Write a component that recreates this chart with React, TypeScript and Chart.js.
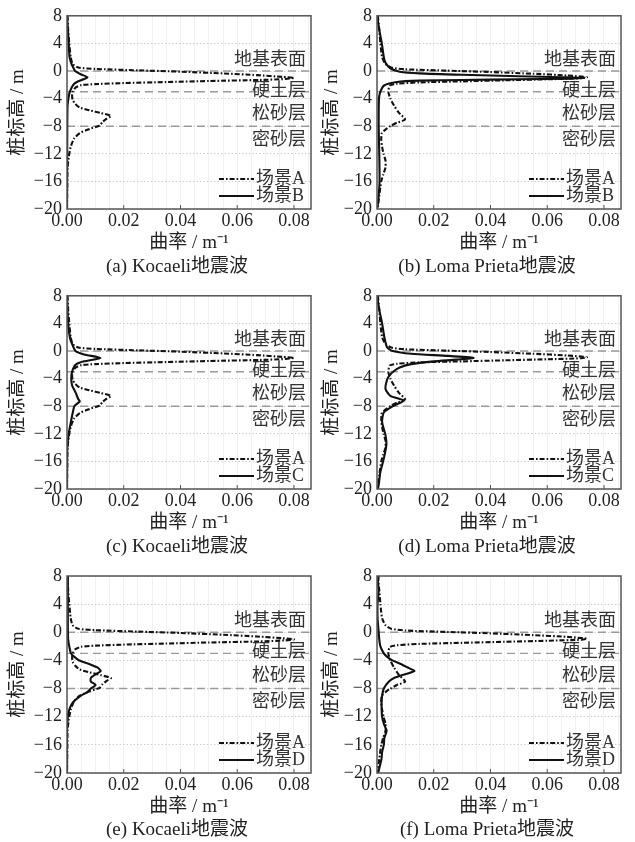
import React, { useEffect, useRef } from "react";
import { Chart, registerables } from "chart.js";

Chart.register(...registerables);

const SERIF = "'Liberation Serif', 'Noto Sans CJK SC', serif";

// ---------- axes ----------
const xMin = 0;
const xMax = 0.086;
const xStep = 0.005;
const xLabelStep = 0.02;
const yMin = -20;
const yMax = 8;
const yStep = 4;

const xAxisTitle = "曲率 / m⁻¹";
const yAxisTitle = "桩标高 / m";

// ---------- soil layers ----------
const layerBoundaries = [0, -3, -8];
const layerNames = ["地基表面", "硬土层", "松砂层", "密砂层"];
const layerNameElev = [1.6, -2.9, -6.3, -10.0];

// ---------- series: Kocaeli, scenario A ----------
const elevKocaeliA = [8, 6, 4, 2, 1, 0.5, 0.3, 0.1, -0.1, -0.35, -0.6, -0.85, -1.0, -1.15, -1.3, -1.45, -1.6, -1.75, -1.9, -2.05, -2.4, -3.0, -3.6, -4.2, -4.8, -5.3, -5.7, -6.1, -6.5, -6.9, -7.4, -7.9, -8.4, -9.0, -9.8, -11, -12.5, -14, -17, -20];
const curvKocaeliA = [0.0002, 0.0004, 0.0008, 0.0013, 0.002, 0.004, 0.01, 0.025, 0.04, 0.055, 0.067, 0.076, 0.08, 0.077, 0.068, 0.05, 0.035, 0.02, 0.01, 0.005, 0.003, 0.002, 0.0018, 0.002, 0.003, 0.0045, 0.008, 0.012, 0.0155, 0.014, 0.0125, 0.0115, 0.008, 0.0045, 0.0025, 0.0013, 0.0006, 0.0002, 0.0001, 0.0];

// ---------- series: Loma Prieta, scenario A ----------
const elevLomaA = [8, 6, 4, 2, 1, 0.5, 0.25, 0.05, -0.15, -0.4, -0.65, -0.9, -1.05, -1.2, -1.35, -1.5, -1.65, -1.85, -2.1, -3, -4, -5, -6, -7, -7.5, -8, -8.5, -9, -10, -11, -12, -13, -14, -15, -16, -18, -20];
const curvLomaA = [0.0003, 0.0008, 0.0012, 0.0018, 0.003, 0.005, 0.01, 0.025, 0.04, 0.055, 0.067, 0.074, 0.072, 0.06, 0.045, 0.03, 0.015, 0.007, 0.0045, 0.004, 0.0047, 0.006, 0.0076, 0.0099, 0.007, 0.0047, 0.003, 0.0017, 0.0015, 0.0018, 0.0023, 0.003, 0.003, 0.0022, 0.0015, 0.0008, 0.0002];

// ---------- series: Kocaeli, scenario B ----------
const elevKocaeliB = [8, 6, 4, 2, 1, 0.5, 0, -0.5, -0.9, -1.2, -1.6, -2, -3, -4, -5, -8, -20];
const curvKocaeliB = [0.0, 0.0003, 0.0006, 0.0009, 0.0016, 0.0022, 0.0029, 0.005, 0.0072, 0.0058, 0.0035, 0.0022, 0.001, 0.0005, 0.0002, 0.0001, 0.0];

// ---------- series: Loma Prieta, scenario B ----------
const elevLomaB = [8, 6, 4, 2, 1.2, 0.4, -0.1, -0.35, -0.55, -0.75, -0.9, -1.0, -1.1, -1.2, -1.3, -1.4, -1.6, -2.1, -3, -4, -8, -12, -16, -19, -20];
const curvLomaB = [0.0, 0.0008, 0.0017, 0.0024, 0.003, 0.0047, 0.008, 0.015, 0.03, 0.05, 0.065, 0.073, 0.068, 0.05, 0.03, 0.015, 0.007, 0.0025, 0.0012, 0.0007, 0.0006, 0.0008, 0.0009, 0.0004, 0.0];

// ---------- series: Kocaeli, scenario C ----------
const elevKocaeliC = [8, 4, 2, 1, 0, -0.5, -1, -1.5, -2, -3, -4, -5, -6, -7, -7.3, -8, -9, -10, -12, -14, -20];
const curvKocaeliC = [0.0, 0.0004, 0.001, 0.0018, 0.003, 0.006, 0.0118, 0.006, 0.003, 0.0018, 0.0015, 0.0018, 0.003, 0.004, 0.0045, 0.0026, 0.002, 0.0015, 0.0006, 0.0001, 0.0];

// ---------- series: Loma Prieta, scenario C ----------
const elevLomaC = [8, 6, 4, 2, 0.5, 0, -0.4, -0.7, -1.0, -1.25, -1.5, -1.9, -2.4, -2.9, -3.5, -4.1, -5.5, -6.5, -7.2, -7.9, -8.9, -10.3, -12.2, -13.6, -15.6, -17.5, -19.4, -20];
const curvLomaC = [0.0, 0.0008, 0.0018, 0.0026, 0.0036, 0.0055, 0.012, 0.025, 0.034, 0.028, 0.02, 0.012, 0.008, 0.006, 0.0045, 0.0036, 0.003, 0.0047, 0.0095, 0.006, 0.0024, 0.0018, 0.003, 0.0033, 0.0024, 0.0012, 0.0006, 0.0003];

// ---------- series: Kocaeli, scenario D ----------
const elevKocaeliD = [8, 4, 1, -1, -2, -3, -3.5, -4, -4.5, -5, -5.5, -6, -6.5, -7, -7.5, -8, -8.5, -9, -10, -11, -12, -14, -20];
const curvKocaeliD = [0.0003, 0.0003, 0.0003, 0.0004, 0.0008, 0.0014, 0.0026, 0.0043, 0.0078, 0.0107, 0.0119, 0.01, 0.0084, 0.0084, 0.0101, 0.0084, 0.0072, 0.0049, 0.002, 0.0008, 0.0003, 0.0, 0.0];

// ---------- series: Loma Prieta, scenario D ----------
const elevLomaD = [8, 7, 6, 4, 2, 0, -1, -2, -3, -3.5, -4, -4.5, -5, -5.5, -6, -6.5, -7, -8, -9, -10, -12, -13, -14, -15, -16, -17, -18, -19, -20];
const curvLomaD = [0.0006, 0.0003, 0.0006, 0.0002, 0.0002, 0.0006, 0.0008, 0.0012, 0.0024, 0.0036, 0.0054, 0.0084, 0.0108, 0.0132, 0.0096, 0.006, 0.0042, 0.0024, 0.0018, 0.0016, 0.0018, 0.0024, 0.0034, 0.0026, 0.0024, 0.0018, 0.0016, 0.001, 0.0004];

// ---------- labels ----------
const labelA = "场景A";
const labelB = "场景B";
const labelC = "场景C";
const labelD = "场景D";
const captions = [
  "(a) Kocaeli地震波",
  "(b) Loma Prieta地震波",
  "(c) Kocaeli地震波",
  "(d) Loma Prieta地震波",
  "(e) Kocaeli地震波",
  "(f) Loma Prieta地震波",
];

const DASH_DOT = [5, 2, 1.6, 2];

type Series = { label: string; elev: number[]; curv: number[] };
type PanelCfg = {
  cx: number; cy: number; w: number; h: number;
  L: number; T: number; R: number; B: number;
  xTitleY: number; captionY: number; yTitleX: number;
  caption: string; ref: Series; cmp: Series;
};

const leftCol = { cx: 0, w: 317, L: 67, R: 311, yTitleX: 18 };
const rightCol = { cx: 317, w: 318, L: 377, R: 621, yTitleX: 332 };
const rows = [
  { cy: 0, h: 280, T: 13, B: 209, xTitleY: 243, captionY: 267 },
  { cy: 280, h: 280, T: 293, B: 489, xTitleY: 523, captionY: 547 },
  { cy: 560, h: 282, T: 576, B: 773, xTitleY: 807, captionY: 830 },
];

const sKA: Series = { label: labelA, elev: elevKocaeliA, curv: curvKocaeliA };
const sLA: Series = { label: labelA, elev: elevLomaA, curv: curvLomaA };

const panels: PanelCfg[] = [
  { ...leftCol, ...rows[0], caption: captions[0], ref: sKA, cmp: { label: labelB, elev: elevKocaeliB, curv: curvKocaeliB } },
  { ...rightCol, ...rows[0], caption: captions[1], ref: sLA, cmp: { label: labelB, elev: elevLomaB, curv: curvLomaB } },
  { ...leftCol, ...rows[1], caption: captions[2], ref: sKA, cmp: { label: labelC, elev: elevKocaeliC, curv: curvKocaeliC } },
  { ...rightCol, ...rows[1], caption: captions[3], ref: sLA, cmp: { label: labelC, elev: elevLomaC, curv: curvLomaC } },
  { ...leftCol, ...rows[2], caption: captions[4], ref: sKA, cmp: { label: labelD, elev: elevKocaeliD, curv: curvKocaeliD } },
  { ...rightCol, ...rows[2], caption: captions[5], ref: sLA, cmp: { label: labelD, elev: elevLomaD, curv: curvLomaD } },
];

const toPoints = (s: Series) => s.elev.map((y, i) => ({ x: s.curv[i], y }));
const isLabelTick = (v: number) => Math.abs(v / xLabelStep - Math.round(v / xLabelStep)) < 1e-6;

function Panel({ cfg }: { cfg: PanelCfg }) {
  const ref = useRef<HTMLCanvasElement | null>(null);
  useEffect(() => {
    if (!ref.current) return;
    const titleFont = 19;
    const lh = titleFont * 1.2;
    const decor = {
      id: "decor",
      afterDatasetsDraw(chart: any) {
        const { ctx, chartArea } = chart;
        const ys = chart.scales.y;
        ctx.save();
        ctx.font = `18px ${SERIF}`;
        ctx.fillStyle = "#333";
        ctx.textAlign = "right";
        ctx.textBaseline = "middle";
        layerNames.forEach((n, i) => {
          ctx.fillText(n, chartArea.right - 5, ys.getPixelForValue(layerNameElev[i]));
        });
        ctx.restore();
      },
      afterDraw(chart: any) {
        const { ctx, chartArea } = chart;
        const xs = chart.scales.x;
        ctx.save();
        // plot frame
        ctx.strokeStyle = "#555";
        ctx.lineWidth = 1.5;
        ctx.strokeRect(chartArea.left, chartArea.top, chartArea.right - chartArea.left, chartArea.bottom - chartArea.top);
        // inward ticks on x axis
        ctx.lineWidth = 1;
        xs.ticks.forEach((t: any) => {
          if (!isLabelTick(t.value) || t.value === 0) return;
          const px = xs.getPixelForValue(t.value);
          ctx.beginPath();
          ctx.moveTo(px, chartArea.bottom);
          ctx.lineTo(px, chartArea.bottom - 4);
          ctx.stroke();
        });
        // legend (inside plot, lower right)
        const rowsY = [chartArea.bottom - 30, chartArea.bottom - 13];
        [0, 1].forEach((di, k) => {
          const ds = chart.data.datasets[di];
          const y = rowsY[k];
          ctx.strokeStyle = ds.borderColor;
          ctx.lineWidth = ds.borderWidth;
          ctx.setLineDash(ds.borderDash || []);
          ctx.beginPath();
          ctx.moveTo(chartArea.right - 92, y);
          ctx.lineTo(chartArea.right - 57, y);
          ctx.stroke();
          ctx.setLineDash([]);
          ctx.fillStyle = "#333";
          ctx.font = `18px ${SERIF}`;
          ctx.textAlign = "left";
          ctx.textBaseline = "middle";
          ctx.fillText(ds.label, chartArea.right - 55, y);
        });
        // caption
        ctx.fillStyle = "#222";
        ctx.font = `19px ${SERIF}`;
        ctx.textAlign = "center";
        ctx.textBaseline = "middle";
        ctx.fillText(cfg.caption, (chartArea.left + chartArea.right) / 2 - 12, cfg.captionY - cfg.cy);
        ctx.restore();
      },
    };

    const chart = new Chart(ref.current, {
      type: "scatter",
      data: {
        datasets: [
          {
            label: cfg.ref.label,
            data: toPoints(cfg.ref),
            showLine: true,
            borderColor: "#111",
            borderWidth: 2.1,
            borderDash: DASH_DOT,
            pointRadius: 0,
            tension: 0.2,
          },
          {
            label: cfg.cmp.label,
            data: toPoints(cfg.cmp),
            showLine: true,
            borderColor: "#111",
            borderWidth: 2.1,
            pointRadius: 0,
            tension: 0.2,
          },
          ...layerBoundaries.map((b) => ({
            label: "",
            data: [{ x: xMin, y: b }, { x: xMax, y: b }],
            showLine: true,
            borderColor: "#9a9a9a",
            borderWidth: 1.4,
            borderDash: [8, 5],
            pointRadius: 0,
          })),
        ],
      },
      options: {
        responsive: false,
        animation: false,
        layout: { padding: { left: 0, top: cfg.T - cfg.cy, right: cfg.cx + cfg.w - cfg.R, bottom: 0 } },
        plugins: { legend: { display: false }, tooltip: { enabled: false }, title: { display: false } },
        scales: {
          x: {
            type: "linear",
            min: xMin,
            max: xMax,
            afterFit: (s: any) => { s.height = cfg.cy + cfg.h - cfg.B; },
            grid: { color: "rgba(0,0,0,0.07)", lineWidth: 0.8, drawTicks: false },
            border: { display: false },
            ticks: {
              stepSize: xStep,
              includeBounds: false,
              autoSkip: false,
              maxRotation: 0,
              minRotation: 0,
              padding: 1,
              color: "#222",
              font: { family: SERIF, size: 18 },
              callback: (v: any) => (isLabelTick(Number(v)) ? Number(v).toFixed(2) : ""),
            },
            title: {
              display: true,
              text: xAxisTitle,
              color: "#222",
              font: { family: SERIF, size: titleFont, lineHeight: 1.2 },
              padding: { top: 0, bottom: cfg.cy + cfg.h - cfg.xTitleY - lh / 2 },
            },
          },
          y: {
            type: "linear",
            min: yMin,
            max: yMax,
            afterFit: (s: any) => { s.width = cfg.L - cfg.cx; },
            grid: { color: "#c8c8c8", lineWidth: 0.9, drawTicks: false },
            border: { display: false, dash: [1.5, 2] },
            ticks: {
              stepSize: yStep,
              padding: 5,
              color: "#222",
              font: { family: SERIF, size: 18 },
              callback: (v: any) => String(v).replace("-", "−"),
            },
            title: {
              display: true,
              text: yAxisTitle,
              color: "#222",
              font: { family: SERIF, size: titleFont, lineHeight: 1.2 },
              padding: { top: cfg.yTitleX - cfg.cx - lh / 2, bottom: 0 },
            },
          },
        },
      } as any,
      plugins: [decor],
    });
    return () => chart.destroy();
  }, [cfg]);

  return (
    <canvas
      ref={ref}
      width={cfg.w}
      height={cfg.h}
      style={{ position: "absolute", left: cfg.cx, top: cfg.cy, width: cfg.w, height: cfg.h }}
    />
  );
}

export default function App() {
  return (
    <div style={{ position: "absolute", left: 0, top: 0, width: 635, height: 842, background: "#fff", overflow: "hidden" }}>
      {panels.map((p, i) => (
        <Panel key={i} cfg={p} />
      ))}
    </div>
  );
}
